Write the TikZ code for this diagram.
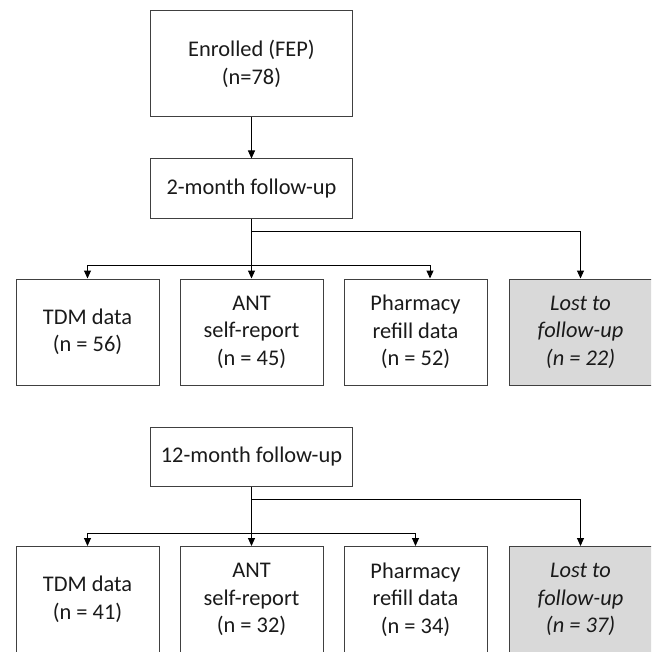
\documentclass[tikz,border=0pt]{standalone}
\usepackage{fontspec}
\setmainfont{Carlito}
\usetikzlibrary{arrows.meta}
\definecolor{boxline}{HTML}{404040}
\definecolor{lostfill}{HTML}{D9D9D9}
\definecolor{txt}{HTML}{1A1A1A}
\begin{document}
\begin{tikzpicture}[x=1pt,y=-1pt,
  box/.style={draw=boxline,line width=1pt,rectangle,minimum width=143pt,minimum height=106pt,
    inner sep=0pt,align=center,text=txt,font=\fontsize{22.4}{27.5}\selectfont},
  widebox/.style={box,minimum width=202pt},
  shortbox/.style={widebox,minimum height=59pt},
  lostbox/.style={box,fill=lostfill,font=\fontsize{22.4}{27.5}\selectfont\itshape},
  conn/.style={draw=black,line width=1pt},
  arr/.style={conn,-{Triangle[width=7pt,length=8pt]}}]
\useasboundingbox (0,0) rectangle (651,652);
\clip (0,0) rectangle (651,652);
\node[widebox] (enr) at (251.5,64) {Enrolled (FEP)\\(n=78)};
\node[shortbox] (m2) at (251.5,188.5) {2-month follow-up};
\node[box] (tdma) at (87.5,332) {TDM data\\(n = 56)};
\node[box] (anta) at (251.5,332) {ANT\\self-report\\(n = 45)};
\node[box] (pha) at (415.5,332) {Pharmacy\\refill data\\(n = 52)};
\node[lostbox] (losta) at (580.5,332) {Lost to\\follow-up\\(n = 22)};
\node[shortbox] (m12) at (251.5,456.5) {12-month follow-up};
\node[box] (tdmb) at (87.5,599.5) {TDM data\\(n = 41)};
\node[box] (antb) at (251.5,599.5) {ANT\\self-report\\(n = 32)};
\node[box] (phb) at (415.5,599.5) {Pharmacy\\refill data\\(n = 34)};
\node[lostbox] (lostb) at (580.5,599.5) {Lost to\\follow-up\\(n = 37)};
\coordinate (ja) at (251.5,231);
\coordinate (jb) at (251.5,265);
\coordinate (jc) at (251.5,499);
\coordinate (jd) at (251.5,533);
\draw[arr] (enr.south) -- (m2.north);
\draw[arr] (m2.south) -- (anta.north);
\draw[arr] (ja) -| (losta.north);
\draw[arr] (jb) -| (tdma.north);
\draw[arr] (jb) -| ([xshift=14.5pt]pha.north);
\draw[arr] (m12.south) -- (antb.north);
\draw[arr] (jc) -| (lostb.north);
\draw[arr] (jd) -| (tdmb.north);
\draw[arr] (jd) -| (phb.north);
\end{tikzpicture}
\end{document}
